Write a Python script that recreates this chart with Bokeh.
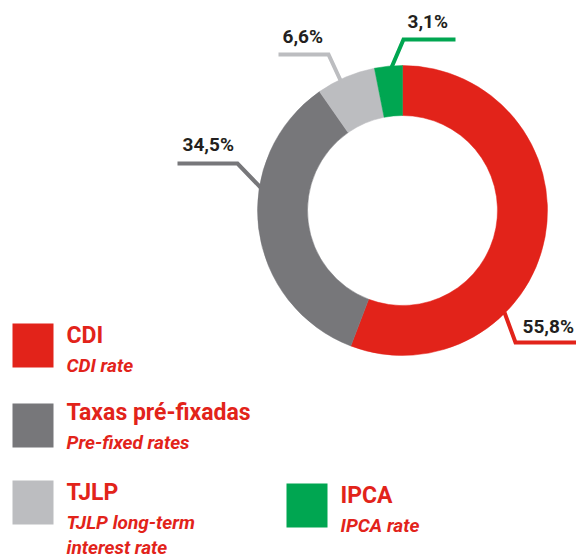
import math
from bokeh.plotting import figure
from bokeh.models import Range1d
from bokeh.core.properties import value
from bokeh.embed import file_html
from bokeh.resources import INLINE

# ---- data ----
categories = ["CDI", "Taxas pré-fixadas", "TJLP", "IPCA"]
subtitles = [["CDI rate"], ["Pre-fixed rates"], ["TJLP long-term", "interest rate"], ["IPCA rate"]]
values = [55.8, 34.5, 6.6, 3.1]

# ---- styles / layout ----
colors = ["#E2231A", "#77777A", "#BCBDC0", "#00A651"]
RED = "#E2231A"
DARK = "#231F20"
FONT = "Roboto"

W, H = 576, 560
CX, CY = 402, 210
R_IN, R_OUT = 95, 145

leaders = [
    [(504, 312), (515, 342), (580, 342)],
    [(262, 189), (237, 163), (177, 163)],
    [(341, 82), (328, 54), (278, 54)],
    [(391, 67), (403, 39), (455, 39)],
]
label_pos = [(522, 334), (182, 152), (282, 44), (407, 29)]

swatches = [(12, 323), (12, 403), (12, 480), (286, 483)]
SW_W, SW_H = 41, 44
title_pos = [(66, 345), (66, 422), (66, 502), (340, 505)]
sub_offset = 28
sub_line = 25
PCT_SIZE, TITLE_SIZE, SUB_SIZE = 19, 23, 19
BASE_FIX = 0.42  # renderer places alphabetic baseline lower; compensate

def Y(y):
    return -y

p = figure(width=W, height=H, output_backend="svg", toolbar_location=None,
           x_range=Range1d(0, W), y_range=Range1d(-H, 0),
           min_border=0, outline_line_color=None)
p.axis.visible = False
p.xgrid.visible = False
p.ygrid.visible = False
p.background_fill_color = "white"
p.border_fill_color = "white"

def put_text(x, y, s, size, color, style):
    p.text(x=[x], y=[Y(y - BASE_FIX * size)], text=[s], text_font=value(FONT),
           text_font_style=style, text_font_size=f"{size}px", text_color=color,
           text_align="left", text_baseline="alphabetic")

# leader lines
for pts, c in zip(leaders, colors):
    p.line([q[0] for q in pts], [Y(q[1]) for q in pts], line_color=c, line_width=4,
           line_join="miter")

# donut
total = sum(values)
cum = 0.0
for v, c in zip(values, colors):
    start = math.pi / 2 - 2 * math.pi * cum / total
    cum += v
    end = math.pi / 2 - 2 * math.pi * cum / total
    p.annular_wedge(x=CX, y=Y(CY), inner_radius=R_IN, outer_radius=R_OUT,
                    start_angle=start, end_angle=end, direction="clock",
                    fill_color=c, line_color=c, line_width=0.5)

# percentage labels
for v, (lx, ly) in zip(values, label_pos):
    txt = f"{v:.1f}".replace(".", ",") + "%"
    put_text(lx, ly, txt, PCT_SIZE, DARK, "bold")

# legend
for cat, subs, c, (sx, sy), (tx, ty) in zip(categories, subtitles, colors, swatches, title_pos):
    p.quad(left=[sx], right=[sx + SW_W], top=[Y(sy)], bottom=[Y(sy + SW_H)],
           fill_color=c, line_color=None)
    put_text(tx, ty, cat, TITLE_SIZE, RED, "bold")
    for i, s in enumerate(subs):
        put_text(tx, ty + sub_offset + i * sub_line, s, SUB_SIZE, RED, "bold italic")

open("out.html", "w").write(file_html(p, INLINE))
